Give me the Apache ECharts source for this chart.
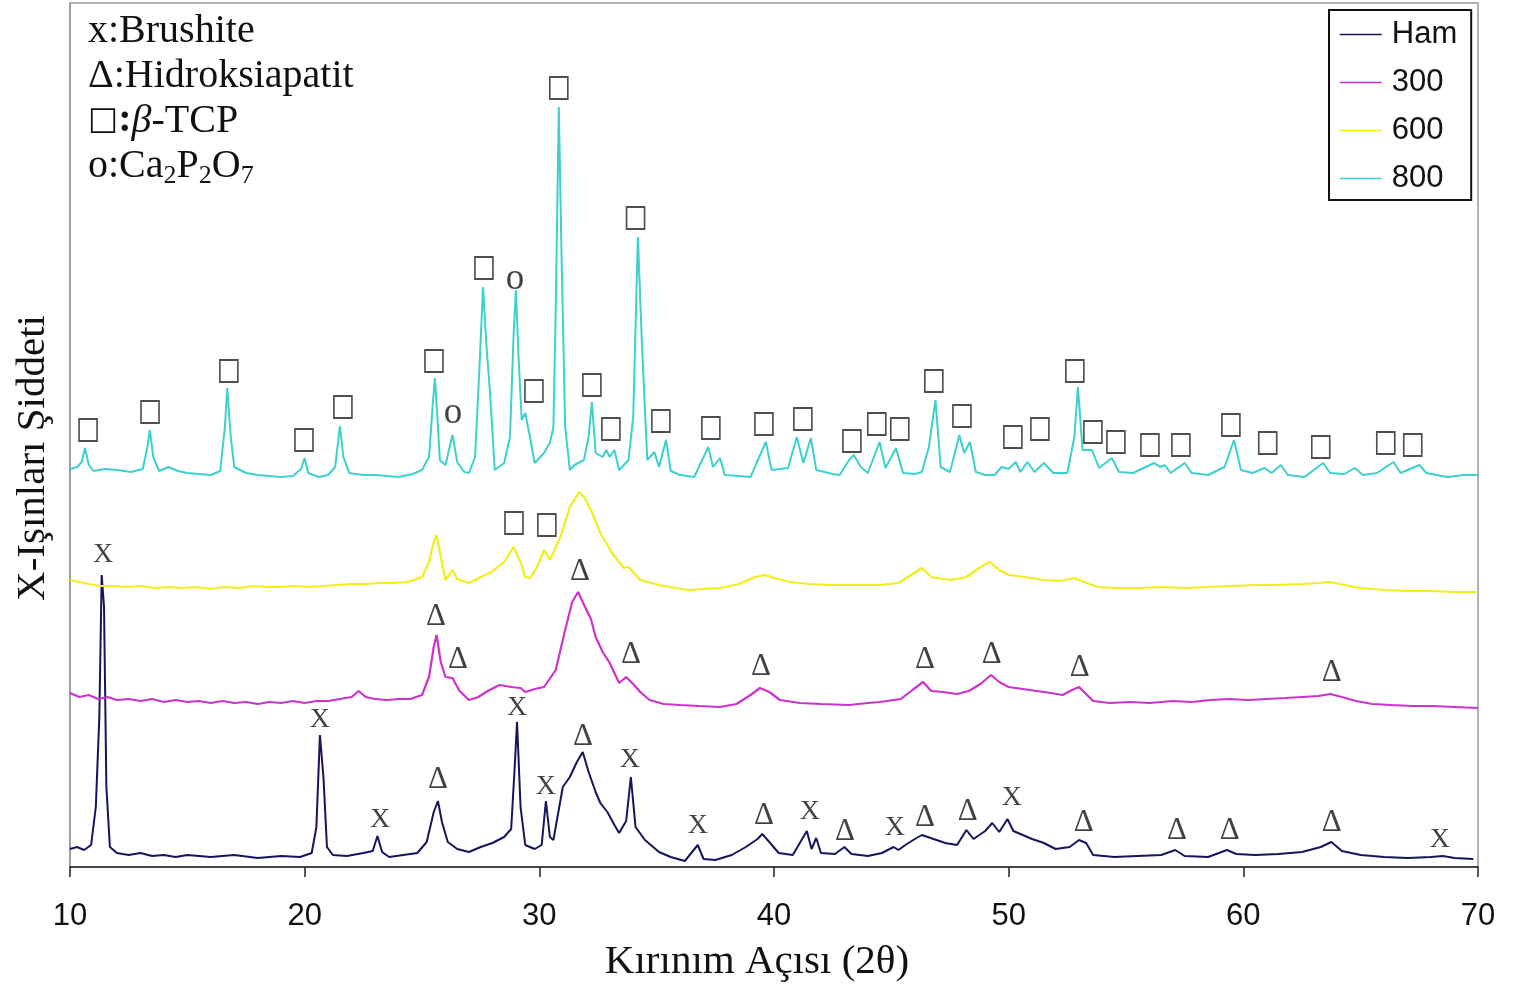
<!DOCTYPE html>
<html>
<head>
<meta charset="utf-8">
<title>XRD</title>
<script src="https://cdn.jsdelivr.net/npm/echarts@6/dist/echarts.min.js"></script>
<style>
  html, body { margin: 0; padding: 0; background: #fff; }
  #chart { width: 1514px; height: 989px; }
</style>
</head>
<body>
<div id="chart"></div>
<script>
// [2θ, intensity] (arbitrary units, traces stacked)
var hamData = [
  [10.0,18],[10.3,20],[10.6,17],[10.9,22],[11.1,60],[11.25,150],[11.35,292],[11.45,260],[11.55,80],[11.7,20],
  [12.0,14],[12.5,12],[13.0,14],[13.5,11],[14.0,12],[14.5,10],[15.0,12],[16.0,10],[17.0,12],[18.0,9],
  [19.0,11],[19.8,10],[20.3,14],[20.5,40],[20.65,132],[20.8,90],[20.95,20],[21.2,12],[21.8,11],[22.5,14],
  [22.9,16],[23.1,31],[23.3,15],[23.6,10],[24.2,12],[24.8,14],[25.2,25],[25.5,55],[25.68,66],[25.85,45],
  [26.1,25],[26.5,18],[27.0,15],[27.5,20],[28.0,24],[28.5,30],[28.8,38],[28.95,100],[29.05,145],[29.2,60],
  [29.4,22],[29.8,18],[30.1,22],[30.28,66],[30.45,30],[30.6,27],[31.0,80],[31.3,90],[31.6,105],[31.85,115],
  [32.1,95],[32.4,75],[32.6,64],[32.9,55],[33.2,42],[33.4,34],[33.7,46],[33.9,90],[34.1,40],[34.5,27],
  [35.1,15],[35.6,10],[36.2,6],[36.75,22],[37.0,8],[37.5,7],[38.2,12],[38.8,20],[39.3,28],[39.5,33],
  [39.8,25],[40.2,14],[40.8,12],[41.25,30],[41.4,36],[41.6,18],[41.8,29],[42.0,14],[42.6,13],[43.0,20],
  [43.3,13],[44.0,11],[44.6,14],[45.1,20],[45.3,17],[45.6,22],[46.0,28],[46.3,32],[46.8,28],[47.3,24],
  [47.8,22],[48.2,37],[48.5,28],[49.0,36],[49.3,44],[49.6,35],[49.95,48],[50.2,36],[50.6,32],[51.0,28],
  [51.5,24],[52.0,18],[52.6,20],[53.0,27],[53.3,24],[53.6,12],[54.5,10],[55.5,11],[56.5,12],[57.1,17],
  [57.5,11],[58.5,10],[59.3,17],[59.7,13],[60.5,12],[61.5,13],[62.5,15],[63.3,20],[63.75,25],[64.2,16],
  [65.0,12],[66.0,10],[67.0,9],[68.0,10],[68.5,11],[69.0,9],[69.8,8]
];
var data300 = [
  [10.0,174],[10.4,170],[10.8,172],[11.2,168],[11.6,170],[12.0,167],[12.5,168],[13.0,166],[13.5,168],[14.0,165],
  [14.5,167],[15.0,165],[15.5,166],[16.0,164],[16.5,166],[17.0,164],[17.5,165],[18.0,163],[18.5,165],[19.0,164],
  [19.5,166],[20.0,164],[20.5,166],[21.0,166],[21.5,168],[22.0,170],[22.3,176],[22.6,170],[23.0,168],[23.5,167],
  [24.0,168],[24.5,168],[25.0,172],[25.3,190],[25.5,220],[25.62,232],[25.8,205],[26.0,190],[26.3,189],[26.6,176],
  [27.0,167],[27.4,170],[27.8,176],[28.3,182],[28.8,180],[29.2,179],[29.4,175],[29.8,178],[30.2,180],[30.7,197],
  [31.1,237],[31.4,265],[31.65,275],[31.95,260],[32.2,248],[32.4,230],[32.7,215],[33.0,204],[33.4,184],[33.7,190],
  [34.0,183],[34.3,175],[34.7,167],[35.3,163],[36.0,162],[36.8,161],[37.7,160],[38.4,163],[39.0,172],[39.4,179],
  [39.8,175],[40.25,167],[41.1,164],[42.0,163],[43.2,162],[44.0,164],[44.5,165],[45.4,168],[45.9,177],[46.35,185],
  [46.7,176],[47.2,175],[47.8,173],[48.3,176],[48.8,183],[49.25,192],[49.6,185],[50.0,180],[50.6,178],[51.2,176],
  [51.8,174],[52.3,172],[52.7,177],[53.0,180],[53.3,173],[53.6,166],[54.3,164],[55.2,165],[56.0,164],[57.0,166],
  [57.8,165],[58.6,167],[59.4,168],[60.2,167],[61.0,168],[61.8,169],[62.5,170],[63.2,171],[63.7,173],[64.2,170],
  [64.8,166],[65.5,163],[66.3,162],[67.2,161],[68.0,161],[69.0,160],[70.0,159]
];
var data600 = [
  [10.0,287],[10.4,285],[10.8,283],[11.3,281],[11.8,281],[12.4,280],[13.0,281],[13.6,279],[14.2,280],[14.8,279],
  [15.4,280],[16.0,278],[16.6,280],[17.2,279],[17.8,281],[18.4,280],[19.0,280],[19.6,281],[20.2,280],[20.8,281],
  [21.4,282],[22.0,283],[22.6,283],[23.2,284],[23.8,284],[24.4,285],[25.0,290],[25.3,305],[25.5,325],[25.62,332],
  [25.8,310],[26.0,287],[26.3,297],[26.5,288],[27.0,284],[27.5,290],[27.9,294],[28.5,305],[28.9,320],[29.2,305],
  [29.4,290],[29.6,289],[29.9,300],[30.2,317],[30.45,307],[30.9,330],[31.3,360],[31.7,375],[31.9,370],[32.2,357],
  [32.6,334],[33.1,314],[33.6,299],[33.8,300],[34.3,287],[35.1,282],[35.8,279],[36.4,277],[37.0,278],[37.7,279],
  [38.5,283],[39.2,290],[39.6,292],[40.0,289],[40.7,285],[41.5,283],[42.4,282],[43.4,282],[44.5,282],[45.3,284],
  [45.9,293],[46.3,299],[46.7,290],[47.5,287],[48.2,290],[48.8,300],[49.2,305],[49.6,297],[50.0,292],[50.7,290],
  [51.5,287],[52.2,286],[52.8,289],[53.2,285],[53.8,280],[54.6,279],[55.5,279],[56.5,280],[57.5,279],[58.5,280],
  [59.5,281],[60.5,282],[61.5,282],[62.5,283],[63.2,284],[63.7,285],[64.3,282],[65.0,279],[66.0,277],[67.0,276],
  [68.0,276],[69.0,275],[70.0,275]
];
var data800 = [
  [10.0,398],[10.3,400],[10.5,405],[10.64,419],[10.8,402],[11.0,396],[11.5,398],[12.0,397],[12.6,395],[13.1,398],
  [13.3,420],[13.4,437],[13.55,410],[13.8,396],[14.2,400],[14.6,396],[15.0,394],[15.5,393],[16.0,392],[16.4,396],
  [16.6,440],[16.7,479],[16.85,430],[17.0,400],[17.5,394],[18.0,392],[18.5,391],[19.0,390],[19.5,391],[19.85,398],
  [20.0,409],[20.15,394],[20.6,390],[21.0,392],[21.3,400],[21.5,441],[21.65,410],[21.9,394],[22.5,392],[23.0,392],
  [23.5,391],[24.0,390],[24.6,393],[25.0,397],[25.3,410],[25.45,460],[25.55,489],[25.68,440],[25.76,407],[26.0,402],
  [26.3,432],[26.5,405],[26.8,395],[27.0,394],[27.26,410],[27.45,500],[27.6,580],[27.75,520],[27.9,474],[28.1,397],
  [28.5,404],[28.75,430],[28.9,530],[29.0,577],[29.12,507],[29.25,447],[29.4,454],[29.6,430],[29.8,404],[30.2,414],
  [30.45,424],[30.6,440],[30.7,560],[30.83,760],[30.95,607],[31.1,440],[31.3,397],[31.5,402],[31.9,407],[32.1,430],
  [32.24,465],[32.4,414],[32.7,410],[32.85,417],[33.0,410],[33.2,417],[33.4,397],[33.8,407],[34.0,450],[34.2,630],
  [34.37,524],[34.6,407],[34.9,415],[35.1,400],[35.4,427],[35.6,396],[36.0,392],[36.6,390],[37.2,420],[37.4,400],
  [37.7,409],[37.9,392],[38.5,391],[39.0,390],[39.65,425],[39.9,397],[40.6,399],[40.97,430],[41.25,404],[41.57,429],
  [41.8,397],[42.5,393],[42.8,392],[43.2,407],[43.4,412],[43.7,400],[44.0,394],[44.5,425],[44.75,399],[45.2,419],
  [45.5,394],[46.0,393],[46.3,395],[46.6,420],[46.88,467],[47.1,400],[47.5,395],[47.9,432],[48.1,414],[48.35,425],
  [48.6,395],[49.0,392],[49.4,392],[49.7,400],[50.0,398],[50.3,405],[50.5,395],[50.8,405],[51.1,395],[51.5,404],
  [51.9,394],[52.5,394],[52.8,430],[52.95,480],[53.15,417],[53.55,417],[53.85,399],[54.4,409],[54.7,395],[55.3,394],
  [56.2,404],[56.45,400],[56.65,402],[56.9,394],[57.5,404],[57.8,394],[58.5,392],[59.2,400],[59.6,427],[59.9,397],
  [60.4,394],[60.9,399],[61.2,394],[61.6,402],[61.9,392],[62.6,390],[63.4,404],[63.7,394],[64.3,393],[64.75,399],
  [65.1,392],[65.7,394],[66.4,405],[66.7,394],[67.5,402],[67.8,394],[68.7,390],[69.4,392],[70.0,392]
];

// phase markers: [2θ, level]
var brushiteMarks = [
  [11.41,312],[20.65,147],[23.21,47],[29.05,159],[30.28,80],[33.86,107],[36.76,41],[41.53,55],[45.15,39],[50.14,69],[68.37,27]
];
var hapMarks = [
  [25.68,87],[31.86,130],[39.57,51],[43.02,35],[46.43,49],[48.26,55],[53.2,44],[57.17,36],[59.42,36],[63.77,44],
  [25.59,250],[26.53,207],[31.73,295],[33.9,212],[39.44,200],[46.43,207],[49.28,212],[53.03,199],[63.77,194]
];
var tcpMarks = [
  [28.92,344],[30.32,342],
  [10.77,437],[13.41,455],[16.77,496],[19.97,427],[21.63,460],[25.51,506],[27.64,599],[29.77,476],[30.83,779],
  [32.24,482],[33.05,438],[34.1,649],[35.18,446],[37.31,439],[39.57,443],[41.23,448],[43.32,426],[44.38,443],
  [45.36,438],[46.81,486],[48.01,451],[50.18,430],[51.33,438],[52.82,496],[53.59,435],[54.57,425],[56.02,422],
  [57.34,422],[59.47,442],[61.04,424],[63.3,420],[66.07,424],[67.22,422]
];
var pyroMarks = [[26.32,454],[28.96,588]];

var seriesNames = ['Ham', '300', '600', '800'];
var xTicks = [10, 20, 30, 40, 50, 60, 70];

var chart = echarts.init(document.getElementById('chart'));

function lineSeries(name, data, color, w) {
  return {
    name: name, type: 'line', data: data, symbol: 'none', smooth: false,
    lineStyle: { color: color, width: w }, itemStyle: { color: color },
    silent: true, z: 2
  };
}
function textMarks(data, text, size) {
  return {
    type: 'scatter', data: data, symbolSize: 1, silent: true, z: 5,
    itemStyle: { color: 'rgba(0,0,0,0)' },
    label: {
      show: true, position: 'inside', formatter: text,
      fontFamily: 'Liberation Serif', fontSize: size, color: '#111'
    }
  };
}

var option = {
  animation: false,
  backgroundColor: '#fff',
  grid: {
    left: 70, right: 36, top: 3, bottom: 122, outerBoundsMode: 'none', containLabel: false,
    show: true, borderColor: '#999', borderWidth: 1.5
  },
  xAxis: {
    type: 'value', min: 10, max: 70, interval: 10,
    axisLine: { lineStyle: { color: '#222', width: 1.5 } },
    axisTick: { length: 10, lineStyle: { color: '#222', width: 1.5 } },
    axisLabel: {
      margin: 34, fontFamily: 'Liberation Sans', fontSize: 31, color: '#111',
      formatter: function (v) { return xTicks.indexOf(v) >= 0 ? String(v) : ''; }
    },
    splitLine: { show: false },
    name: 'Kırınım Açısı (2θ)', nameLocation: 'middle', nameGap: 75,
    nameTextStyle: { fontFamily: 'Liberation Serif', fontSize: 41, color: '#111', padding: [0, 34, 0, 0] }
  },
  yAxis: {
    type: 'value', min: 0, max: 864,
    axisLine: { show: true, lineStyle: { color: '#999', width: 1.5 } },
    axisTick: { show: false }, axisLabel: { show: false }, splitLine: { show: false }
  },
  legend: {
    data: seriesNames, orient: 'vertical', left: 1329, top: 10,
    padding: [9, 14, 6, 10], itemGap: 17, itemWidth: 42, itemHeight: 30,
    borderColor: '#111', borderWidth: 2, backgroundColor: '#fff',
    itemStyle: { opacity: 0 },
    lineStyle: { width: 1.5 },
    textStyle: { fontFamily: 'Liberation Sans', fontSize: 31, color: '#111', padding: [0, 0, 0, 5] }
  },
  graphic: [
    {
      type: 'text', rotation: Math.PI / 2, x: 33, y: 458,
      style: { text: 'X-Işınları Şiddeti', font: '41px "Liberation Serif"', fill: '#111', align: 'center', verticalAlign: 'middle' }
    },
    {
      type: 'text', x: 88, y: 31,
      style: { text: 'x:Brushite', font: '40px "Liberation Serif"', fill: '#111', verticalAlign: 'middle' }
    },
    {
      type: 'text', x: 88, y: 76,
      style: { text: 'Δ:Hidroksiapatit', font: '40px "Liberation Serif"', fill: '#111', verticalAlign: 'middle' }
    },
    {
      type: 'text', x: 88, y: 121,
      style: {
        text: '{b|□}{c|:}{g|β}-TCP', font: '40px "Liberation Serif"', fill: '#111', verticalAlign: 'middle',
        rich: {
          b: { fontFamily: 'DejaVu Sans', fontSize: 32, fill: '#111' },
          c: { fontFamily: 'Liberation Serif', fontSize: 40, fontWeight: 'bold', fill: '#111' },
          g: { fontFamily: 'Liberation Serif', fontSize: 40, fontStyle: 'italic', fill: '#111' }
        }
      }
    },
    {
      type: 'text', x: 88, y: 166,
      style: {
        text: 'o:Ca{s|2}P{s|2}O{s|7}', font: '40px "Liberation Serif"', fill: '#111', verticalAlign: 'middle',
        rich: {
          s: { fontFamily: 'Liberation Serif', fontSize: 26, fill: '#111', padding: [20, 0, 0, 0] }
        }
      }
    }
  ],
  series: [
    lineSeries('Ham', hamData, '#15155e', 2),
    lineSeries('300', data300, '#cc33cc', 2.2),
    lineSeries('600', data600, '#f2ee1a', 2.2),
    lineSeries('800', data800, '#3cd0d0', 2),
    textMarks(brushiteMarks, 'X', 28),
    textMarks(hapMarks, 'Δ', 31),
    textMarks(pyroMarks, 'o', 37),
    {
      type: 'scatter', data: tcpMarks, symbol: 'rect', symbolSize: [18, 22], silent: true, z: 5,
      itemStyle: { color: 'rgba(255,255,255,0)', borderColor: '#222', borderWidth: 1.8 }
    }
  ]
};
chart.setOption(option);
</script>
</body>
</html>
